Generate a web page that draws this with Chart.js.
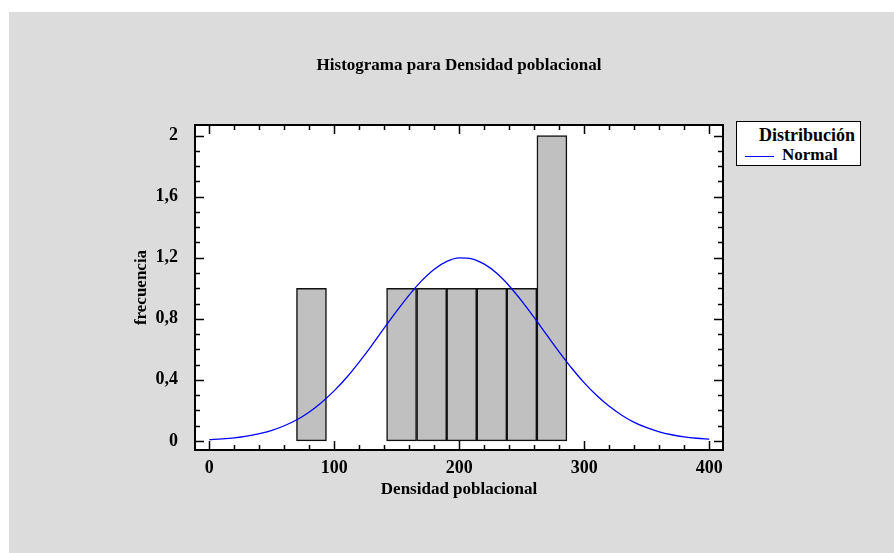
<!DOCTYPE html>
<html>
<head>
<meta charset="utf-8">
<script src="https://cdn.jsdelivr.net/npm/chart.js@4.4.1/dist/chart.umd.min.js"></script>
<style>
  html, body { margin: 0; padding: 0; background: #fff; }
  #wrap { position: relative; width: 894px; height: 553px; }
  #title {
    position: absolute; left: 259px; top: 55px; width: 400px;
    text-align: center; font: bold 17px "Liberation Serif", serif; line-height: 20px; color: #000;
  }
  #legend {
    position: absolute; left: 736px; top: 121px; width: 125px; height: 45px;
    box-sizing: border-box; border: 1px solid #000; background: #fff;
    font: bold 17px "Liberation Serif", serif; color: #000;
  }
  #legend .head { position: absolute; right: 5px; top: 3px; line-height: 20px; font-size: 18px; }
  #legend .item { position: absolute; left: 8px; top: 23px; line-height: 20px; white-space: nowrap; }
  #legend .swatch { display: inline-block; width: 29px; height: 0; border-top: 1.5px solid #0000ff; vertical-align: middle; margin-right: 8px; }
</style>
</head>
<body>
<div id="wrap">
  <canvas id="chart" width="894" height="553"></canvas>
  <div id="title">Histograma para Densidad poblacional</div>
  <div id="legend">
    <div class="head">Distribución</div>
    <div class="item"><span class="swatch"></span>Normal</div>
  </div>
</div>
<script>
// histogram bins (class midpoints) and frequencies
const binCenters = [57.6, 81.7, 105.7, 129.8, 153.8, 177.9, 201.9, 226.0, 250.0, 274.1];
const binCounts = [0, 1, 0, 0, 1, 1, 1, 1, 1, 2];

// fitted normal curve
const normalX = [0, 10, 20, 30, 40, 50, 60, 70, 80, 90, 100, 110, 120, 130, 140, 150, 160, 170, 180, 190,
  200, 210, 220, 230, 240, 250, 260, 270, 280, 290, 300, 310, 320, 330, 340, 350, 360, 370, 380, 390, 400];
const normalY = [0.008, 0.013, 0.020, 0.031, 0.047, 0.069, 0.099, 0.138, 0.189, 0.253, 0.329, 0.417, 0.518,
  0.626, 0.740, 0.852, 0.957, 1.050, 1.125, 1.176, 1.199, 1.193, 1.158, 1.098, 1.015, 0.916, 0.807, 0.694,
  0.582, 0.476, 0.380, 0.297, 0.226, 0.168, 0.121, 0.086, 0.059, 0.040, 0.026, 0.017, 0.011];

// tick labels
const xTicks = [0, 100, 200, 300, 400];
const yTicks = [0, 0.4, 0.8, 1.2, 1.6, 2];
const yTickLabels = ['0', '0,4', '0,8', '1,2', '1,6', '2'];

const FONT = 'Liberation Serif';

// background panel + plot frame with inward ticks
const framePlugin = {
  id: 'frame',
  beforeDraw(chart) {
    const { ctx, chartArea: a } = chart;
    ctx.save();
    ctx.fillStyle = '#fff';
    ctx.fillRect(0, 0, chart.width, chart.height);
    ctx.fillStyle = '#dcdcdc';
    ctx.fillRect(9, 12, chart.width - 9, chart.height - 12);
    ctx.fillStyle = '#fff';
    ctx.fillRect(a.left, a.top, a.right - a.left, a.bottom - a.top);
    ctx.restore();
  },
  afterDraw(chart) {
    const { ctx, chartArea: a, scales } = chart;
    const x = scales.x, y = scales.y;
    ctx.save();
    ctx.strokeStyle = '#000';
    ctx.lineWidth = 2;
    ctx.strokeRect(a.left, a.top, a.right - a.left, a.bottom - a.top);
    ctx.lineWidth = 1.5;
    ctx.beginPath();
    for (let v = 0; v <= 400; v += 20) {
      const px = Math.round(x.getPixelForValue(v)) + 0.5;
      const len = v % 100 === 0 ? 9 : 5;
      ctx.moveTo(px, a.bottom); ctx.lineTo(px, a.bottom - len);
      ctx.moveTo(px, a.top); ctx.lineTo(px, a.top + len);
    }
    for (let i = 0; i <= 20; i++) {
      const py = Math.round(y.getPixelForValue(i / 10)) + 0.5;
      const len = i % 4 === 0 ? 9 : 5;
      ctx.moveTo(a.left, py); ctx.lineTo(a.left + len, py);
      ctx.moveTo(a.right, py); ctx.lineTo(a.right - len, py);
    }
    ctx.stroke();
    ctx.restore();
  }
};

new Chart(document.getElementById('chart'), {
  type: 'bar',
  data: {
    datasets: [
      {
        type: 'line',
        label: 'Normal',
        data: normalX.map((v, i) => ({ x: v, y: normalY[i] })),
        borderColor: '#0000ff',
        borderWidth: 1.3,
        pointRadius: 0,
        cubicInterpolationMode: 'monotone',
        fill: false,
        order: 0
      },
      {
        label: 'frecuencia',
        data: binCenters.map((v, i) => ({ x: v, y: binCounts[i] })),
        backgroundColor: '#c0c0c0',
        borderColor: '#111',
        borderWidth: 1.5,
        borderSkipped: false,
        barPercentage: 1,
        categoryPercentage: 1,
        order: 1
      }
    ]
  },
  options: {
    responsive: false,
    animation: false,
    devicePixelRatio: 1,
    layout: { padding: { left: 130, right: 171, top: 125, bottom: 53 } },
    plugins: { legend: { display: false }, tooltip: { enabled: false }, title: { display: false } },
    scales: {
      x: {
        type: 'linear',
        offset: false,
        min: -11.5,
        max: 411,
        afterBuildTicks: s => { s.ticks = xTicks.map(v => ({ value: v })); },
        afterFit: s => { s.height = 50; },
        grid: { display: false, offset: false },
        border: { display: false },
        ticks: { color: '#000', padding: 0, font: { family: FONT, size: 18, weight: 'bold' } },
        title: {
          display: true, text: 'Densidad poblacional', color: '#000',
          padding: { top: 0, bottom: 0 }, font: { family: FONT, size: 17, weight: 'bold' }
        }
      },
      y: {
        type: 'linear',
        min: -0.06,
        max: 2.07,
        afterBuildTicks: s => { s.ticks = yTicks.map(v => ({ value: v })); },
        afterFit: s => { s.width = 65; },
        grid: { display: false },
        border: { display: false },
        ticks: {
          color: '#000', padding: 9, font: { family: FONT, size: 18, weight: 'bold' },
          callback: (v) => yTickLabels[yTicks.indexOf(v)]
        },
        title: {
          display: true, text: 'frecuencia', color: '#000',
          padding: { top: 1, bottom: 0 }, font: { family: FONT, size: 17, weight: 'bold' }
        }
      }
    }
  },
  plugins: [framePlugin]
});
</script>
</body>
</html>
